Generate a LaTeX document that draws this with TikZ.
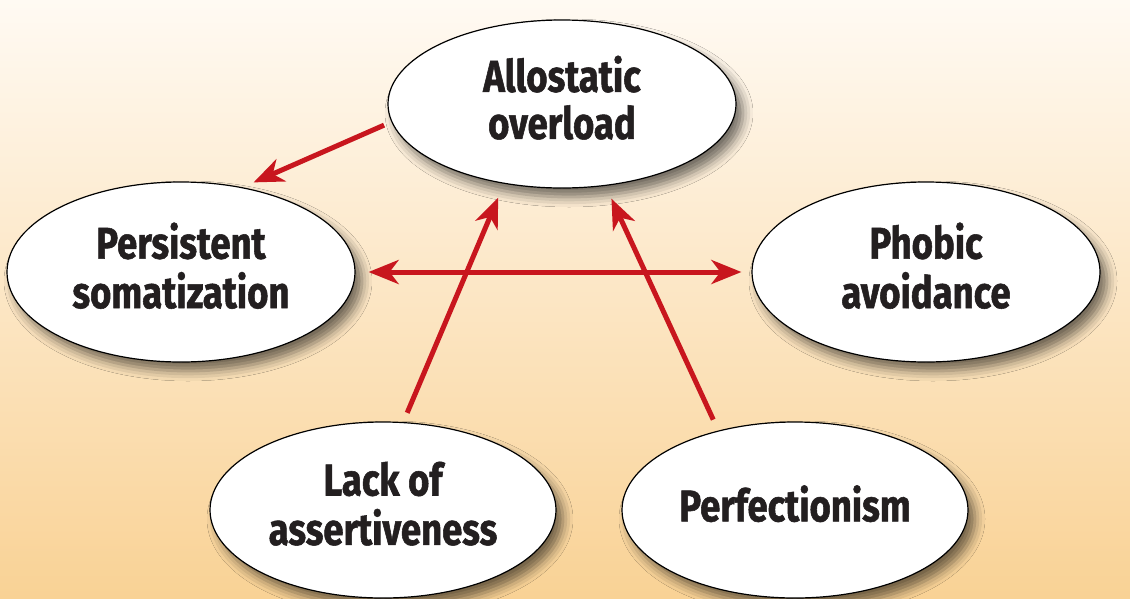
\documentclass[tikz,border=0pt]{standalone}
\usepackage{fontspec}
\setmainfont{Fira Sans}[FakeStretch=0.82, BoldFeatures={FakeBold=1.2}]
\usetikzlibrary{shapes.geometric,arrows.meta,shadows.blur}
\definecolor{bgtop}{HTML}{FFFAF3}
\definecolor{bgbottom}{HTML}{F9D295}
\definecolor{linkred}{HTML}{C8161E}
\definecolor{ink}{HTML}{231F20}
% stacked, centred lines of a bubble label
\newcommand{\bubbletext}[1]{\begin{tabular}{@{}c@{}}#1\end{tabular}}
\tikzset{
  bubble/.style={ellipse, draw=black, line width=1.2pt, fill=white,
    minimum width=348pt, minimum height=174pt, inner sep=0pt,
    text=ink,
    font=\bfseries\fontsize{44.5}{44.5}\selectfont,
    blur shadow={shadow xshift=7pt, shadow yshift=-9pt,
      shadow blur radius=10pt, shadow opacity=55}},
  link/.style={draw=linkred, line width=5pt,
    -{Stealth[length=30pt, width=24pt, inset=9pt]}},
  duallink/.style={link,
    {Stealth[length=30pt, width=24pt, inset=9pt]}-{Stealth[length=30pt, width=24pt, inset=9pt]}}
}
\begin{document}
\begin{tikzpicture}[x=1pt, y=-1pt]
  \useasboundingbox (0,0) rectangle (1130,598);
  \shade[top color=bgtop, bottom color=bgbottom] (0,0) rectangle (1130,598);

  \node[bubble, minimum height=168pt] (allo) at (562,104) {\bubbletext{Allostatic\\overload}};
  \node[bubble, minimum height=180pt] (pers) at (181,272) {\bubbletext{Persistent\\somatization}};
  \node[bubble, minimum height=180pt] (phob) at (926,272) {\bubbletext{Phobic\\avoidance}};
  \node[bubble, minimum width=346pt, minimum height=176pt] (lack) at (383,510) {\bubbletext{Lack of\\assertiveness}};
  \node[bubble, minimum width=346pt, minimum height=176pt] (perf) at (795,510) {\bubbletext{Perfectionism}};

  \draw[link, shorten <=8pt, shorten >=12pt] (allo.186) -- (pers.54);
  \draw[duallink, shorten <=13pt, shorten >=10pt] (pers.0) -- (phob.180);
  \draw[link, shorten <=10pt, shorten >=15pt] (lack.77.1) -- (allo.234.2);
  \draw[link, shorten <=12pt, shorten >=14pt] (perf.134.7) -- (allo.298.6);
\end{tikzpicture}
\end{document}
